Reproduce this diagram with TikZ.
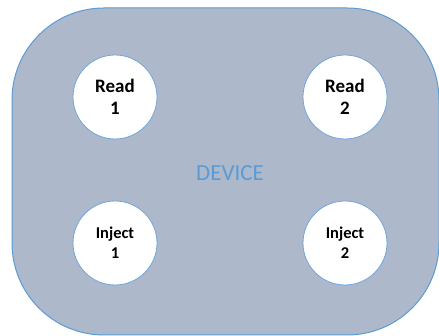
\documentclass[tikz,border=0pt]{standalone}
\usepackage{fontspec}
\setmainfont{Carlito}
\definecolor{deviceFill}{RGB}{173,185,202}
\definecolor{deviceBlue}{RGB}{91,155,213}
\definecolor{portEdge}{RGB}{110,165,220}
\usepackage{tikz}

\begin{document}
\begin{tikzpicture}[x=1pt,y=1pt,
  port/.style={circle,draw=portEdge,fill=white,line width=0.8pt,minimum size=84pt,inner sep=0pt,align=center}]
\useasboundingbox (0,0) rectangle (439,336);
% Device body
\begin{scope}
\clip (0,0) rectangle (439,336);
\draw[draw=deviceBlue,fill=deviceFill,line width=1pt,rounded corners=92pt] (12,1) rectangle (439,328);
\end{scope}
\node[text=deviceBlue,font=\fontsize{23}{27}\selectfont] (dev) at (230,163) {DEVICE};
% Read ports
\node[port,font=\fontsize{19}{22}\selectfont\bfseries] (r1) at (115,239) {Read\\1};
\node[port,font=\fontsize{19}{22}\selectfont\bfseries] (r2) at (345,239) {Read\\2};
% Inject ports
\node[port,font=\fontsize{16.5}{20}\selectfont\bfseries] (i1) at (115,93) {Inject\\1};
\node[port,font=\fontsize{16.5}{20}\selectfont\bfseries] (i2) at (345,93) {Inject\\2};
\end{tikzpicture}
\end{document}
